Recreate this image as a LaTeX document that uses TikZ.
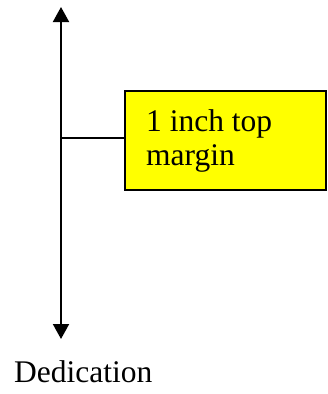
\documentclass[tikz,border=0pt]{standalone}
\usepackage{fontspec}
\setmainfont{Liberation Serif}
\usetikzlibrary{arrows.meta}
\definecolor{pureyellow}{RGB}{255,255,0}
\tikzset{
  bigtext/.style={font=\fontsize{31.5}{34}\selectfont, inner sep=0pt, align=left},
  notebox/.style={draw=black, line width=1.2pt, fill=pureyellow, minimum width=201pt, minimum height=99pt, inner sep=0pt},
  dimarrow/.style={line width=2pt, {Triangle[length=15pt,width=16pt]}-{Triangle[length=15pt,width=16pt]}},
  leader/.style={line width=1.2pt}
}
\begin{document}
\begin{tikzpicture}[x=1pt,y=-1pt]
\useasboundingbox (0,0) rectangle (328,394);
\coordinate (top) at (61,7);
\coordinate (bot) at (61,339);
\coordinate (j) at (61,138);
\node[notebox] (box) at (225.5,140.5) {};
\node[bigtext, anchor=base west] (boxtext) at (146,165) {1 inch top\\margin};
\draw[dimarrow] (top) -- (bot);
\draw[leader] (j) -- (j -| box.west);
\node[bigtext, anchor=base west] (ded) at (14,382) {Dedication};
\end{tikzpicture}
\end{document}
